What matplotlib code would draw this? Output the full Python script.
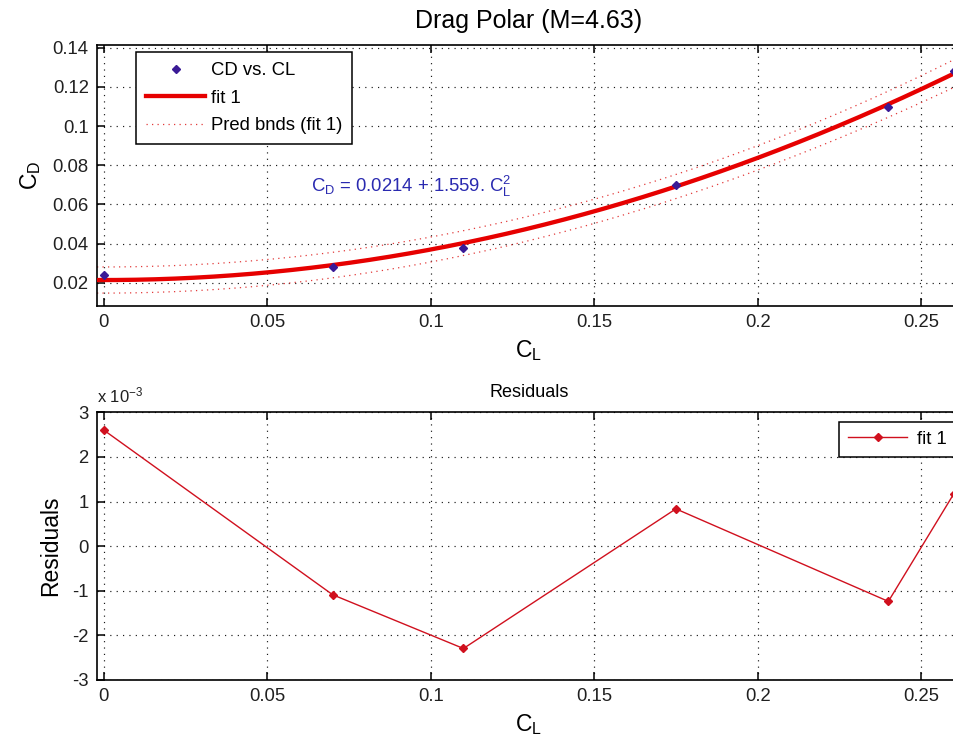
import numpy as np
import matplotlib
matplotlib.use("Agg")
import matplotlib.pyplot as plt
from matplotlib.ticker import FuncFormatter, FixedLocator

plt.rcParams["font.family"] = ["Liberation Sans", "DejaVu Sans"]
plt.rcParams["mathtext.fontset"] = "custom"
plt.rcParams["mathtext.rm"] = "Liberation Sans"
plt.rcParams["mathtext.it"] = "Liberation Sans"
plt.rcParams["mathtext.default"] = "regular"

# measured drag polar at M = 4.63
cl = [0.0, 0.07, 0.11, 0.175, 0.24, 0.26]
cd = [0.0240, 0.02795, 0.03797, 0.06998, 0.10996, 0.12796]

# fitted model CD = cd0 + k * CL^2
cd0 = 0.0214
k = 1.559
t_crit = 2.7764  # Student t, 95 %, 4 dof

x_ticks = [0, 0.05, 0.1, 0.15, 0.2, 0.25]
y_ticks_top = [0.02, 0.04, 0.06, 0.08, 0.1, 0.12, 0.14]
y_ticks_res = [-3e-3, -2e-3, -1e-3, 0, 1e-3, 2e-3, 3e-3]

cl_a = np.asarray(cl)
cd_a = np.asarray(cd)
fit_pts = cd0 + k * cl_a ** 2
resid = cd_a - fit_pts

# prediction bounds (non-simultaneous, new observation)
X = np.column_stack([np.ones_like(cl_a), cl_a ** 2])
n, p = X.shape
s = np.sqrt(np.sum(resid ** 2) / (n - p))
XtX_inv = np.linalg.inv(X.T @ X)

xlim = (-0.0021, 0.2621)
xs = np.linspace(xlim[0], xlim[1], 400)
Xs = np.column_stack([np.ones_like(xs), xs ** 2])
fit_curve = cd0 + k * xs ** 2
lev = np.einsum("ij,jk,ik->i", Xs, XtX_inv, Xs)
half = t_crit * s * np.sqrt(1.0 + lev)

W, H = 954, 746
fig = plt.figure(figsize=(W / 100, H / 100), dpi=100, facecolor="white")


def px_axes(left, right, top, bottom):
    return fig.add_axes([left / W, 1 - bottom / H, (right - left) / W, (bottom - top) / H])


ax1 = px_axes(97, 960.6, 45, 305.7)
ax2 = px_axes(97, 960.6, 412.3, 680)

fmt = FuncFormatter(lambda v, _: "%g" % v)
TICK_FS = 13.3
LABEL_FS = 16.5
grid_kw = dict(color="#1a1a1a", linewidth=0.85, linestyle=(0, (1, 4.4)))

for ax in (ax1, ax2):
    ax.set_xlim(*xlim)
    ax.xaxis.set_major_locator(FixedLocator(x_ticks))
    ax.xaxis.set_major_formatter(fmt)
    ax.tick_params(direction="in", length=6, width=1.1, top=True, right=True,
                   labelsize=TICK_FS, pad=6, colors="black", labelcolor="#202020")
    for sp in ax.spines.values():
        sp.set_linewidth(1.2)
    ax.grid(True, **grid_kw)
    ax.set_axisbelow(True)

# ---- drag polar
ax1.set_ylim(0.0083, 0.1414)
ax1.yaxis.set_major_locator(FixedLocator(y_ticks_top))
ax1.yaxis.set_major_formatter(fmt)

ax1.plot(cl, cd, linestyle="none", marker="D", markersize=3.6,
         color="#3a1a96", zorder=4, label="CD vs. CL")
ax1.plot(xs, fit_curve, color="#e60000", linewidth=3.1, zorder=3, label="fit 1")
bnd_style = dict(color="#e23a3a", linewidth=0.9, linestyle=(0, (1, 3.4)), zorder=2)
ax1.plot(xs, fit_curve + half, label="Pred bnds (fit 1)", **bnd_style)
ax1.plot(xs, fit_curve - half, **bnd_style)

ax1.set_title("Drag Polar (M=4.63)", fontsize=18, pad=12.5)
ax1.set_xlabel("C$_L$", fontsize=LABEL_FS, labelpad=5)
ax1.set_ylabel("C$_D$", fontsize=LABEL_FS, labelpad=7)

ax1.text(0.0633, 0.0665, "C$_D$ = %.4f + %.3f. C$_L^2$" % (cd0, k),
         color="#2a2ab0", fontsize=13.3, ha="left", va="baseline", zorder=5)

leg1 = ax1.legend(loc="upper left", bbox_to_anchor=(0.0452, 0.973),
                  fontsize=TICK_FS, frameon=True, fancybox=False, framealpha=1,
                  edgecolor="black", handlelength=3.2, handletextpad=0.3,
                  borderpad=0.55, labelspacing=0.57, borderaxespad=0)
leg1.get_frame().set_linewidth(1.1)

# ---- residuals
ax2.set_ylim(-3e-3, 3e-3)
ax2.yaxis.set_major_locator(FixedLocator(y_ticks_res))
ax2.yaxis.set_major_formatter(FuncFormatter(lambda v, _: "%g" % round(v * 1e3, 6)))

ax2.plot(cl, resid, color="#d0101e", linewidth=1.0, marker="D", markersize=3.6,
         zorder=3, label="fit 1")
ax2.set_title("Residuals", fontsize=13, pad=11)
ax2.set_xlabel("C$_L$", fontsize=LABEL_FS, labelpad=5)
ax2.set_ylabel("Residuals", fontsize=LABEL_FS, labelpad=7)
ax2.text(0.0, 1.0385, "x 10$^{-3}$", transform=ax2.transAxes, fontsize=12,
         ha="left", va="baseline", color="#202020")

leg2 = ax2.legend(loc="upper left", bbox_to_anchor=(0.859, 0.965),
                  fontsize=TICK_FS, frameon=True, fancybox=False, framealpha=1,
                  edgecolor="black", handlelength=3.2, handletextpad=0.55,
                  borderpad=0.5, borderaxespad=0)
leg2.get_frame().set_linewidth(1.1)

fig.savefig("out.png", dpi=100, facecolor="white")
